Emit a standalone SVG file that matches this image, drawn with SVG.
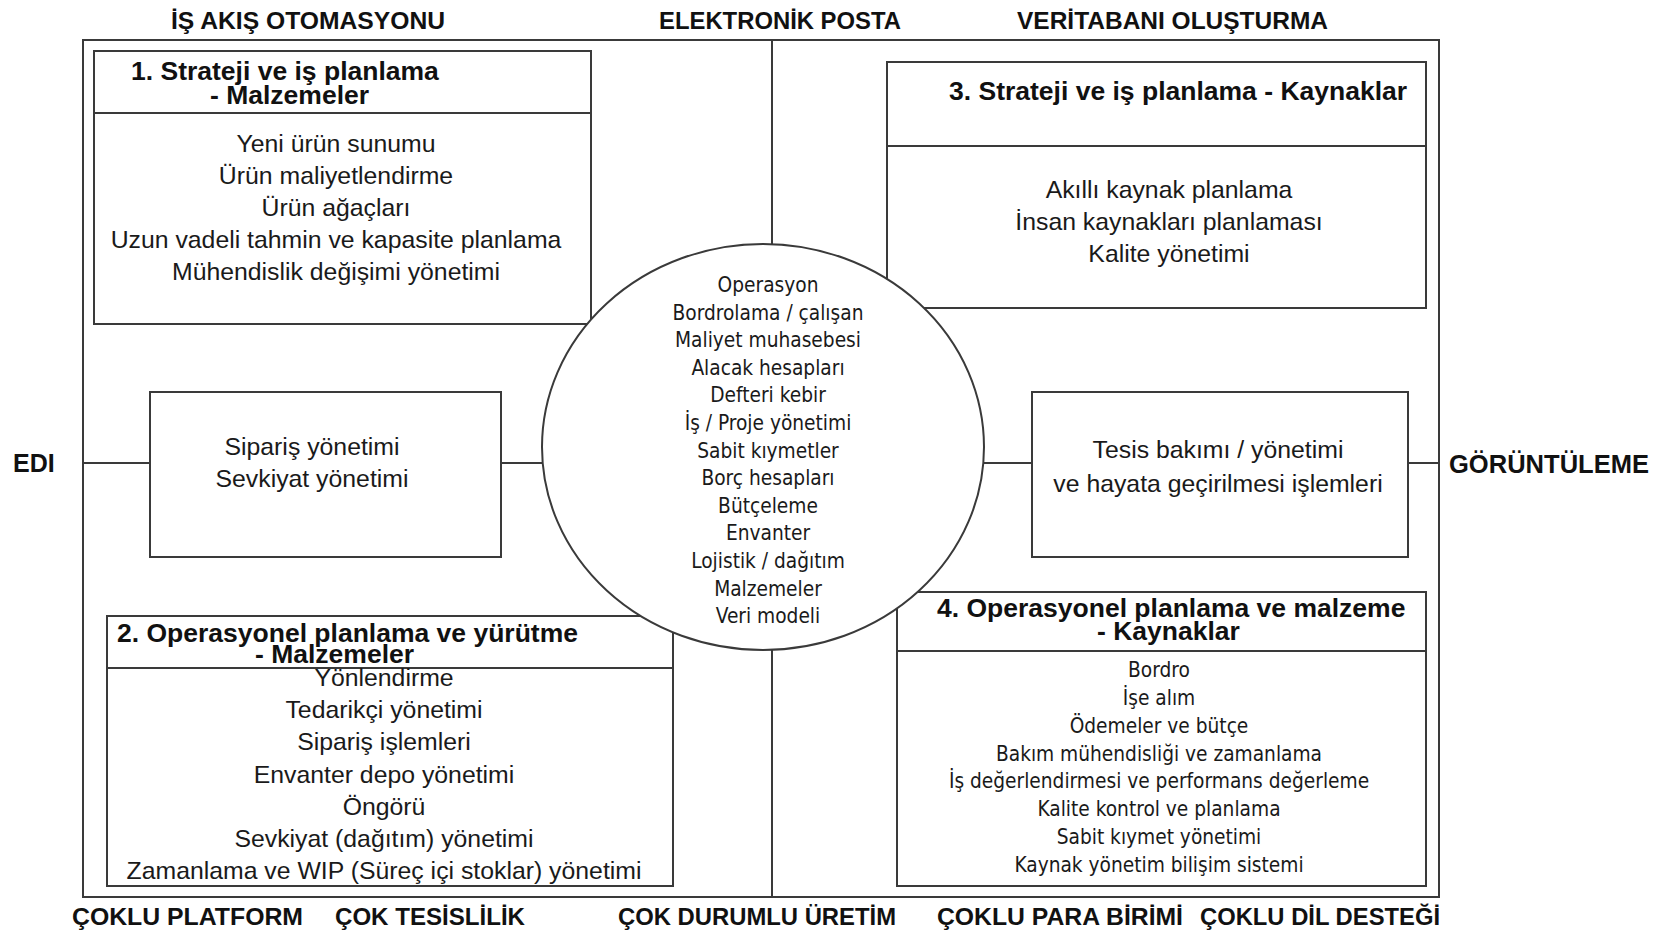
<svg xmlns="http://www.w3.org/2000/svg" width="1672" height="940" viewBox="0 0 1672 940">
<style>
  .ln { stroke: #3a3a3a; stroke-width: 2; fill: none; }
  .box { stroke: #3a3a3a; stroke-width: 2; fill: #ffffff; }
  .hd { font-family: "Liberation Sans", Arial, sans-serif; font-weight: bold; font-size: 24.6px; fill: #111; }
  .tt { font-family: "Liberation Sans", Arial, sans-serif; font-weight: bold; font-size: 26.5px; fill: #111; }
  .it { font-family: "Liberation Sans", Arial, sans-serif; font-size: 24.8px; fill: #1a1a1a; text-anchor: middle; }
  .sm { font-family: "DejaVu Sans Condensed", "DejaVu Sans", sans-serif; font-stretch: condensed; font-size: 20.7px; fill: #1a1a1a; text-anchor: middle; }
</style>
<rect width="1672" height="940" fill="#ffffff"/>

<g id="frame">
  <rect class="ln" x="83" y="40" width="1356" height="857"/>
</g>

<g id="labels">
  <text class="hd" x="171" y="29" textLength="274" lengthAdjust="spacingAndGlyphs">İŞ AKIŞ OTOMASYONU</text>
  <text class="hd" x="659" y="29" textLength="242" lengthAdjust="spacingAndGlyphs">ELEKTRONİK POSTA</text>
  <text class="hd" x="1017" y="29" textLength="311" lengthAdjust="spacingAndGlyphs">VERİTABANI OLUŞTURMA</text>
  <text class="hd" x="13" y="472" style="font-size:25px">EDI</text>
  <text class="hd" x="1449" y="473" style="font-size:25.5px" textLength="200" lengthAdjust="spacingAndGlyphs">GÖRÜNTÜLEME</text>
  <text class="hd" x="72" y="925" textLength="231" lengthAdjust="spacingAndGlyphs">ÇOKLU PLATFORM</text>
  <text class="hd" x="335" y="925" textLength="190" lengthAdjust="spacingAndGlyphs">ÇOK TESİSLİLİK</text>
  <text class="hd" x="618" y="925" textLength="278" lengthAdjust="spacingAndGlyphs">ÇOK DURUMLU ÜRETİM</text>
  <text class="hd" x="937" y="925" textLength="246" lengthAdjust="spacingAndGlyphs">ÇOKLU PARA BİRİMİ</text>
  <text class="hd" x="1200" y="925" textLength="240" lengthAdjust="spacingAndGlyphs">ÇOKLU DİL DESTEĞİ</text>
</g>

<g id="connectors">
  <line class="ln" x1="83" y1="463" x2="150" y2="463"/>
  <line class="ln" x1="501" y1="463" x2="543" y2="463"/>
  <line class="ln" x1="983" y1="463" x2="1032" y2="463"/>
  <line class="ln" x1="1408" y1="463" x2="1439" y2="463"/>
  <line class="ln" x1="772" y1="40" x2="772" y2="244"/>
  <line class="ln" x1="772" y1="650" x2="772" y2="897"/>
</g>

<g id="box1">
  <rect class="box" x="94" y="51" width="497" height="273"/>
  <line class="ln" x1="94" y1="113" x2="591" y2="113"/>
  <text class="tt" x="131" y="80">1. Strateji ve iş planlama</text>
  <text class="tt" x="210" y="104">- Malzemeler</text>
  <text class="it" x="336" y="152">Yeni ürün sunumu</text>
  <text class="it" x="336" y="184">Ürün maliyetlendirme</text>
  <text class="it" x="336" y="216">Ürün ağaçları</text>
  <text class="it" x="336" y="248">Uzun vadeli tahmin ve kapasite planlama</text>
  <text class="it" x="336" y="280">Mühendislik değişimi yönetimi</text>
</g>

<g id="box3">
  <rect class="box" x="887" y="62" width="539" height="246"/>
  <line class="ln" x1="887" y1="146" x2="1426" y2="146"/>
  <text class="tt" x="949" y="100">3. Strateji ve iş planlama - Kaynaklar</text>
  <text class="it" x="1169" y="198">Akıllı kaynak planlama</text>
  <text class="it" x="1169" y="230">İnsan kaynakları planlaması</text>
  <text class="it" x="1169" y="262">Kalite yönetimi</text>
</g>

<g id="siparis">
  <rect class="box" x="150" y="392" width="351" height="165"/>
  <text class="it" x="312" y="455">Sipariş yönetimi</text>
  <text class="it" x="312" y="487">Sevkiyat yönetimi</text>
</g>

<g id="tesis">
  <rect class="box" x="1032" y="392" width="376" height="165"/>
  <text class="it" x="1218" y="458">Tesis bakımı / yönetimi</text>
  <text class="it" x="1218" y="492">ve hayata geçirilmesi işlemleri</text>
</g>

<g id="box2">
  <rect class="box" x="107" y="616" width="566" height="270"/>
  <line class="ln" x1="107" y1="668" x2="673" y2="668"/>
  <text class="tt" x="117" y="642">2. Operasyonel planlama ve yürütme</text>
  <text class="tt" x="255" y="663">- Malzemeler</text>
  <text class="it" x="384" y="686">Yönlendirme</text>
  <text class="it" x="384" y="718">Tedarikçi yönetimi</text>
  <text class="it" x="384" y="750">Sipariş işlemleri</text>
  <text class="it" x="384" y="783">Envanter depo yönetimi</text>
  <text class="it" x="384" y="815">Öngörü</text>
  <text class="it" x="384" y="847">Sevkiyat (dağıtım) yönetimi</text>
  <text class="it" x="384" y="879">Zamanlama ve WIP (Süreç içi stoklar) yönetimi</text>
</g>

<g id="box4">
  <rect class="box" x="897" y="592" width="529" height="294"/>
  <line class="ln" x1="897" y1="651" x2="1426" y2="651"/>
  <text class="tt" x="937" y="617">4. Operasyonel planlama ve malzeme</text>
  <text class="tt" x="1097" y="640">- Kaynaklar</text>
  <text class="sm" x="1159" y="677">Bordro</text>
  <text class="sm" x="1159" y="705">İşe alım</text>
  <text class="sm" x="1159" y="733">Ödemeler ve bütçe</text>
  <text class="sm" x="1159" y="761">Bakım mühendisliği ve zamanlama</text>
  <text class="sm" x="1159" y="788">İş değerlendirmesi ve performans değerleme</text>
  <text class="sm" x="1159" y="816">Kalite kontrol ve planlama</text>
  <text class="sm" x="1159" y="844">Sabit kıymet yönetimi</text>
  <text class="sm" x="1159" y="872">Kaynak yönetim bilişim sistemi</text>
</g>

<g id="core">
  <ellipse class="box" cx="763" cy="447" rx="221" ry="203"/>
  <text class="sm" x="768" y="292">Operasyon</text>
  <text class="sm" x="768" y="319.6">Bordrolama / çalışan</text>
  <text class="sm" x="768" y="347.2">Maliyet muhasebesi</text>
  <text class="sm" x="768" y="374.8">Alacak hesapları</text>
  <text class="sm" x="768" y="402.4">Defteri kebir</text>
  <text class="sm" x="768" y="430">İş / Proje yönetimi</text>
  <text class="sm" x="768" y="457.6">Sabit kıymetler</text>
  <text class="sm" x="768" y="485.2">Borç hesapları</text>
  <text class="sm" x="768" y="512.8">Bütçeleme</text>
  <text class="sm" x="768" y="540.4">Envanter</text>
  <text class="sm" x="768" y="568">Lojistik / dağıtım</text>
  <text class="sm" x="768" y="595.6">Malzemeler</text>
  <text class="sm" x="768" y="623.2">Veri modeli</text>
</g>
</svg>
